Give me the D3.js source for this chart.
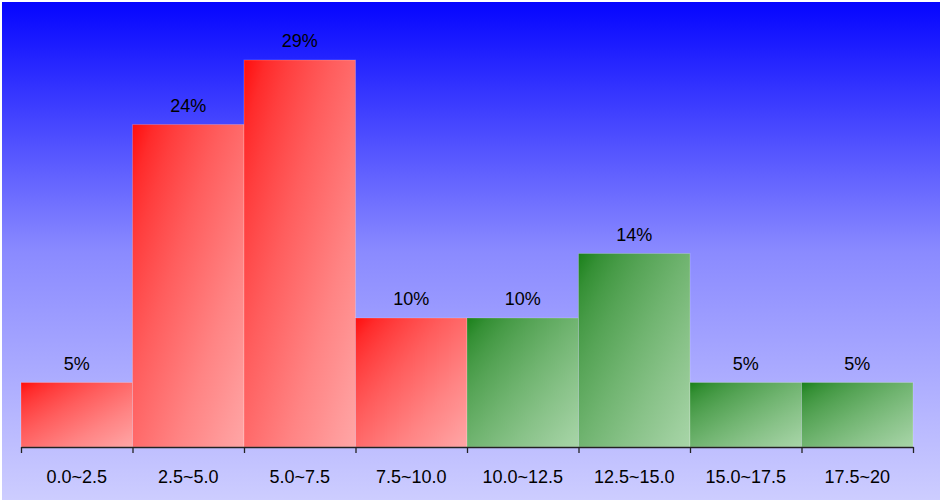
<!DOCTYPE html>
<html>
<head>
<meta charset="utf-8">
<script src="https://cdn.jsdelivr.net/npm/d3@7"></script>
<style>
  html, body { margin: 0; padding: 0; background: #ffffff; }
  svg { display: block; }
  text { font-family: "Liberation Sans", Arial, sans-serif; }
</style>
</head>
<body>
<svg id="chart" width="942" height="502"></svg>
<script>
// ---- data ----
const categories = ["0.0~2.5", "2.5~5.0", "5.0~7.5", "7.5~10.0", "10.0~12.5", "12.5~15.0", "15.0~17.5", "17.5~20"];
const counts = [1, 5, 6, 2, 2, 3, 1, 1];
const groups = ["red", "red", "red", "red", "green", "green", "green", "green"];

const W = 942, H = 502;
const svg = d3.select("#chart");
const defs = svg.append("defs");

// background gradient
const bg = defs.append("linearGradient").attr("id", "bg")
  .attr("x1", 0).attr("y1", 0).attr("x2", 0).attr("y2", 1);
bg.append("stop").attr("offset", 0).attr("stop-color", "#0505ff");
bg.append("stop").attr("offset", 0.5).attr("stop-color", "#8a8aff");
bg.append("stop").attr("offset", 1).attr("stop-color", "#cdcdff");

const gradColors = {
  red: ["#ff0e0e", "#ffa6a6"],
  green: ["#1a801a", "#a8d5a8"]
};
Object.entries(gradColors).forEach(([k, c]) => {
  const g = defs.append("linearGradient").attr("id", "g-" + k)
    .attr("x1", 0).attr("y1", 0).attr("x2", 1).attr("y2", 1);
  const interp = d3.interpolateRgb(c[0], c[1]);
  d3.range(0, 1.0001, 0.1).forEach(t => {
    g.append("stop").attr("offset", t).attr("stop-color", interp(Math.pow(t, 0.72)));
  });
});

svg.append("rect").attr("x", 0).attr("y", 0).attr("width", W).attr("height", H).attr("fill", "#ffffff");
svg.append("rect").attr("x", 2).attr("y", 2).attr("width", W - 4).attr("height", H - 4).attr("fill", "url(#bg)");

const total = d3.sum(counts);
const x = d3.scaleLinear().domain([0, categories.length]).range([21, 913]);
const y = d3.scaleLinear().domain([0, 6]).range([447, 60]);

// bars
svg.append("g").selectAll("rect").data(counts).join("rect")
  .attr("x", (d, i) => x(i))
  .attr("y", d => y(d))
  .attr("width", (d, i) => x(i + 1) - x(i))
  .attr("height", d => y(0) - y(d))
  .attr("fill", (d, i) => `url(#g-${groups[i]})`)
  .attr("stroke", "rgba(255,255,255,0.2)")
  .attr("stroke-width", 1);

// value labels
svg.append("g").selectAll("text").data(counts).join("text")
  .attr("x", (d, i) => (x(i) + x(i + 1)) / 2)
  .attr("y", d => y(d) - 13)
  .attr("text-anchor", "middle")
  .attr("font-size", "18px")
  .attr("fill", "#000")
  .text(d => Math.round(d / total * 100) + "%");

// axis
const axis = d3.axisBottom(x).tickValues(d3.range(categories.length + 1))
  .tickFormat("").tickSize(6).tickSizeOuter(0);
const ag = svg.append("g").attr("transform", `translate(0,${y(0)})`).call(axis);
ag.select(".domain").attr("stroke", "#222").attr("stroke-width", 1.3);
ag.selectAll(".tick line").attr("stroke", "#222").attr("stroke-width", 1.3);

// category labels
svg.append("g").selectAll("text").data(categories).join("text")
  .attr("x", (d, i) => (x(i) + x(i + 1)) / 2)
  .attr("y", 483)
  .attr("text-anchor", "middle")
  .attr("font-size", "18px")
  .attr("fill", "#000")
  .text(d => d);
</script>
</body>
</html>
